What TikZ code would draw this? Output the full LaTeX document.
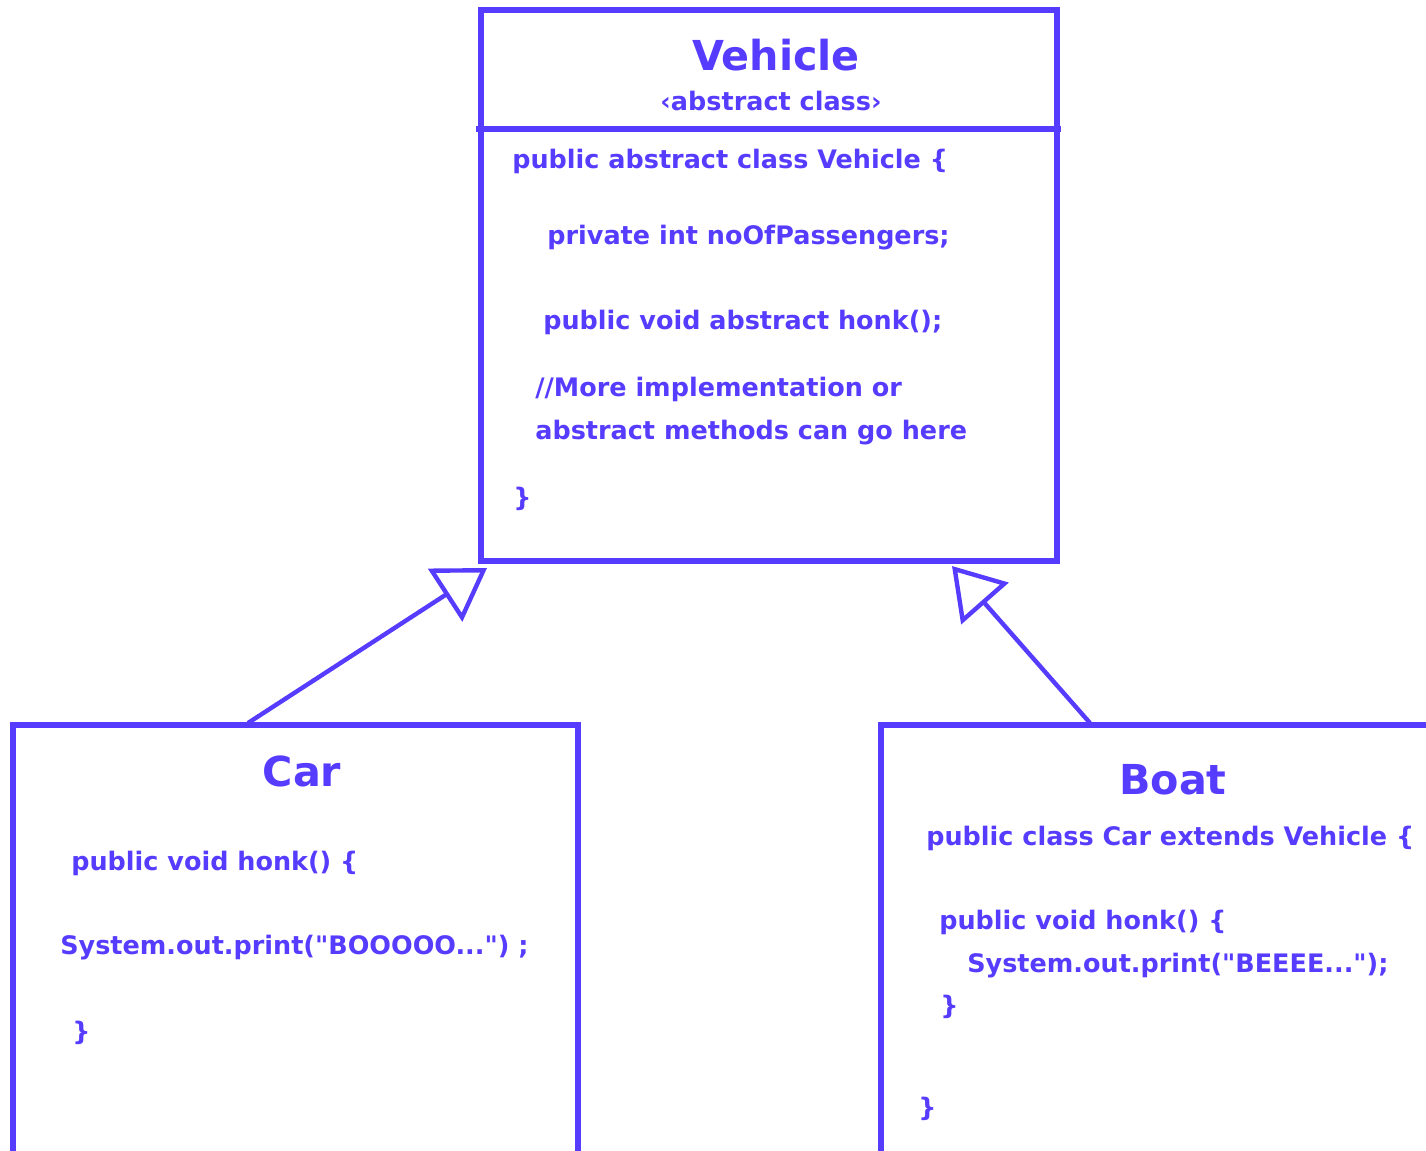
\documentclass[tikz,border=0pt]{standalone}
\usepackage{fontspec}
\setmainfont{DejaVu Sans}[Ligatures=TeXOff]
\usetikzlibrary{arrows.meta}

\definecolor{umlblue}{RGB}{86,60,255}

\tikzset{
  classbox/.style={draw=umlblue, line width=3.2pt, rectangle, inner sep=0pt, outer sep=0pt, anchor=north west},
  classname/.style={text=umlblue, font=\fontsize{23.5}{27}\selectfont\bfseries, anchor=base, inner sep=0pt},
  stereo/.style={text=umlblue, font=\fontsize{14.5}{17}\selectfont\bfseries, anchor=base, inner sep=0pt},
  code/.style={text=umlblue, font=\fontsize{14.5}{17}\selectfont\bfseries, anchor=base west, inner sep=0pt},
  inherits/.style={draw=umlblue, line width=2.5pt, -{Triangle[open, length=1cm, width=1.25cm]}},
}

\begin{document}
\begin{tikzpicture}[x=0.02cm, y=-0.02cm]
    \useasboundingbox (0,0) rectangle (1426,1150);

    \node[classbox, minimum width=11.52cm, minimum height=11.02cm] (vehicle) at (481,10) {};
    \node[classbox, minimum width=11.3cm, minimum height=9.5cm] (car) at (13,725) {};
    \node[classbox, minimum width=12cm, minimum height=9.5cm] (boat) at (881,725) {};
    \draw[draw=umlblue, line width=3.2pt] (476,129) -- (1061,129);

    \node[classname] (vname) at (776,70) {Vehicle};
    \node[stereo] (vstereo) at (771,110) {‹abstract class›};
    \node[code] (v1) at (512,168) {public abstract class Vehicle \{};
    \node[code] (v2) at (547,244) {private int noOfPassengers;};
    \node[code] (v3) at (543,329) {public void abstract honk();};
    \node[code] (v4) at (535,396) {//More implementation or};
    \node[code] (v5) at (535,439) {abstract methods can go here};
    \node[code] (v6) at (513,506) {\}};

    \node[classname] (cname) at (302,786) {Car};
    \node[code] (c1) at (71,870) {public void honk() \{};
    \node[code] (c2) at (60,954) {System.out.print("BOOOOO...") ;};
    \node[code] (c3) at (72,1040) {\}};

    \node[classname] (bname) at (1173,794) {Boat};
    \node[code] (b1) at (926,845) {public class Car extends Vehicle \{};
    \node[code] (b2) at (939,929) {public void honk() \{};
    \node[code] (b3) at (967,972) {System.out.print("BEEEE...");};
    \node[code] (b4) at (940,1014) {\}};
    \node[code] (b5) at (918,1116) {\}};

    \coordinate (carup) at (248,723);
    \coordinate (boatup) at (1090,723);
    \coordinate (tipl) at (487,568);
    \coordinate (tipr) at (952,566);

    \draw[inherits] (carup) -- (tipl);
    \draw[inherits] (boatup) -- (tipr);
\end{tikzpicture}
\end{document}
